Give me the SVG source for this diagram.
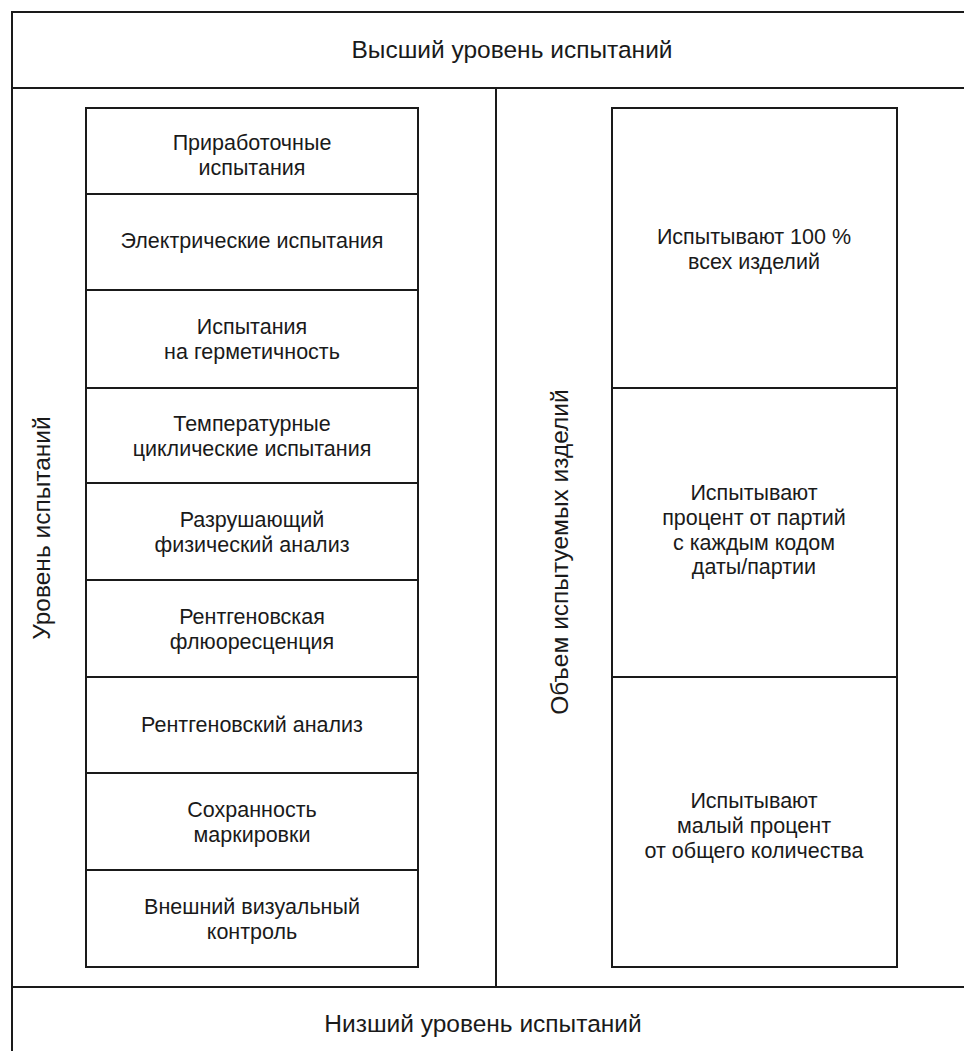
<svg xmlns="http://www.w3.org/2000/svg" width="964" height="1051" viewBox="0 0 964 1051">
<style>
.ln{stroke:#1a1a1a;stroke-width:2;fill:none}
.bx{stroke:#1a1a1a;stroke-width:2;fill:#fff}
text{font-family:"Liberation Sans",Arial,sans-serif;font-size:21.5px;fill:#1a1a1a;text-anchor:middle}
.big{font-size:24.5px}
</style>
<rect width="964" height="1051" fill="#fff"/>
<g id="frame">
<path class="ln" d="M12,1052 V12 H966 M12,88 H966 M12,987 H966 M496,88 V987"/>
</g>
<g id="top"><text class="big" x="512" y="58">Высший уровень испытаний</text></g>
<g id="bottom"><text class="big" x="483" y="1032">Низший уровень испытаний</text></g>
<g id="axis-left"><text class="big" transform="translate(50,528) rotate(-90)">Уровень испытаний</text></g>
<g id="axis-right"><text class="big" transform="translate(568,552) rotate(-90)">Объем испытуемых изделий</text></g>
<g id="t1"><rect class="bx" x="86" y="108" width="332" height="86"/><text x="252" y="150">Приработочные</text><text x="252" y="175">испытания</text></g>
<g id="t2"><rect class="bx" x="86" y="194" width="332" height="96"/><text x="252" y="248">Электрические испытания</text></g>
<g id="t3"><rect class="bx" x="86" y="290" width="332" height="98"/><text x="252" y="334">Испытания</text><text x="252" y="359">на герметичность</text></g>
<g id="t4"><rect class="bx" x="86" y="388" width="332" height="95"/><text x="252" y="431">Температурные</text><text x="252" y="456">циклические испытания</text></g>
<g id="t5"><rect class="bx" x="86" y="483" width="332" height="97"/><text x="252" y="527">Разрушающий</text><text x="252" y="552">физический анализ</text></g>
<g id="t6"><rect class="bx" x="86" y="580" width="332" height="97"/><text x="252" y="624">Рентгеновская</text><text x="252" y="649">флюоресценция</text></g>
<g id="t7"><rect class="bx" x="86" y="677" width="332" height="96"/><text x="252" y="732">Рентгеновский анализ</text></g>
<g id="t8"><rect class="bx" x="86" y="773" width="332" height="97"/><text x="252" y="817">Сохранность</text><text x="252" y="842">маркировки</text></g>
<g id="t9"><rect class="bx" x="86" y="870" width="332" height="97"/><text x="252" y="914">Внешний визуальный</text><text x="252" y="939">контроль</text></g>
<g id="v1"><rect class="bx" x="612" y="108" width="285" height="280"/><text x="754" y="244">Испытывают 100 %</text><text x="754" y="269">всех изделий</text></g>
<g id="v2"><rect class="bx" x="612" y="388" width="285" height="289"/><text x="754" y="500">Испытывают</text><text x="754" y="525">процент от партий</text><text x="754" y="550">с каждым кодом</text><text x="754" y="574">даты/партии</text></g>
<g id="v3"><rect class="bx" x="612" y="677" width="285" height="290"/><text x="754" y="808">Испытывают</text><text x="754" y="833">малый процент</text><text x="754" y="858">от общего количества</text></g>
<g id="connectors"></g>
</svg>
